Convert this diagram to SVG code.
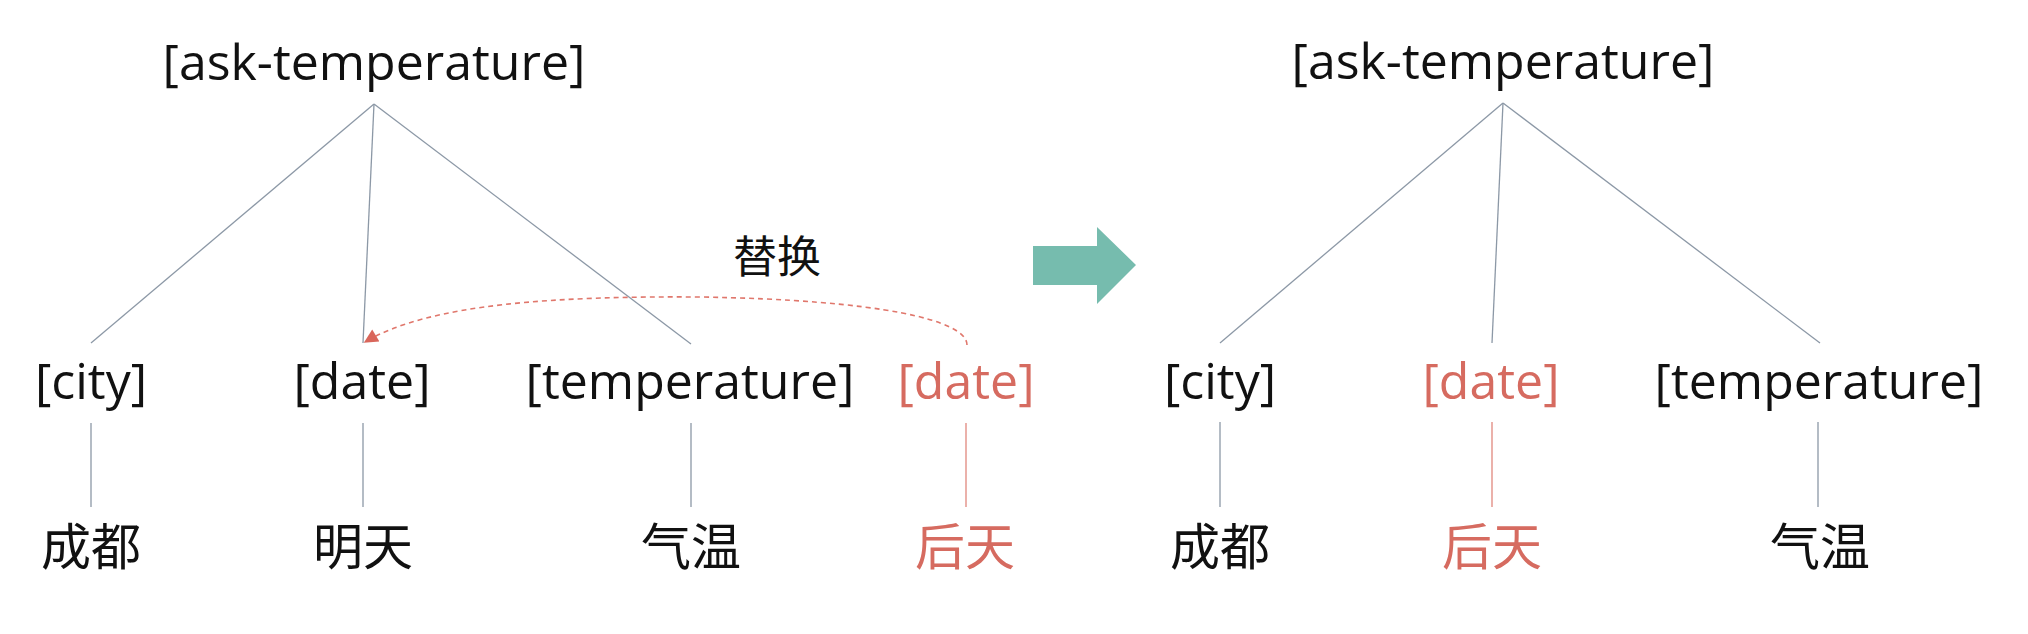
<svg xmlns="http://www.w3.org/2000/svg" width="2028" height="634" viewBox="0 0 2028 634">
<defs>
<style>
.lbl{font-family:"Open Sans","Noto Sans CJK SC",sans-serif;font-size:50px;fill:#111;text-anchor:middle}
.cjk{font-family:"Noto Sans CJK SC",sans-serif;font-size:50px;fill:#111;text-anchor:middle}
.red{fill:#d66b60}
.edge{stroke:#8c98a6;stroke-width:1.3;fill:none}
.redge{stroke:#e0877d;stroke-width:1.3;fill:none}
.dash{stroke:#e0776c;stroke-width:1.6;fill:none;stroke-dasharray:5 4}
</style>
<marker id="ah" viewBox="0 0 10 10" refX="9" refY="5" markerWidth="18" markerHeight="14" markerUnits="userSpaceOnUse" orient="auto">
<path d="M0,0 L10,5 L0,10 z" fill="#d9665b"/>
</marker>
</defs>
<rect width="2028" height="634" fill="#ffffff"/>
<g id="connectors">
<line class="edge" x1="374" y1="104" x2="91" y2="343"/>
<line class="edge" x1="374" y1="104" x2="363" y2="343"/>
<line class="edge" x1="374" y1="104" x2="691" y2="344"/>
<line class="edge" x1="91" y1="423" x2="91" y2="507"/>
<line class="edge" x1="363" y1="423" x2="363" y2="507"/>
<line class="edge" x1="691" y1="423" x2="691" y2="507"/>
<line class="redge" x1="966" y1="423" x2="966" y2="507"/>
<path class="dash" d="M967,345 C967,320 880,300 700,297 C560,296 430,303 365,342" marker-end="url(#ah)"/>
<line class="edge" x1="1503" y1="103" x2="1220" y2="343"/>
<line class="edge" x1="1503" y1="103" x2="1492" y2="343"/>
<line class="edge" x1="1503" y1="103" x2="1820" y2="343"/>
<line class="edge" x1="1220" y1="422" x2="1220" y2="507"/>
<line class="redge" x1="1492" y1="422" x2="1492" y2="507"/>
<line class="edge" x1="1818" y1="422" x2="1818" y2="507"/>
</g>
<g id="left-root"><text class="lbl" x="374" y="80">[ask-temperature]</text></g>
<g id="left-city"><text class="lbl" x="91" y="399">[city]</text></g>
<g id="left-date"><text class="lbl" x="362" y="399">[date]</text></g>
<g id="left-temperature"><text class="lbl" x="690" y="399">[temperature]</text></g>
<g id="left-newdate"><text class="lbl red" x="966" y="399">[date]</text></g>
<g id="left-chengdu"><text class="cjk" x="91" y="565">成都</text></g>
<g id="left-mingtian"><text class="cjk" x="363" y="565">明天</text></g>
<g id="left-qiwen"><text class="cjk" x="691" y="565">气温</text></g>
<g id="left-houtian"><text class="cjk red" x="965" y="565">后天</text></g>
<g id="replace-label"><text class="cjk" x="777" y="273" style="font-size:44px">替换</text></g>
<g id="transform-arrow"><polygon points="1033,246 1097,246 1097,227 1136,265 1097,304 1097,285 1033,285" fill="#76bcae"/></g>
<g id="right-root"><text class="lbl" x="1503" y="79">[ask-temperature]</text></g>
<g id="right-city"><text class="lbl" x="1220" y="399">[city]</text></g>
<g id="right-date"><text class="lbl red" x="1491" y="399">[date]</text></g>
<g id="right-temperature"><text class="lbl" x="1819" y="399">[temperature]</text></g>
<g id="right-chengdu"><text class="cjk" x="1220" y="565">成都</text></g>
<g id="right-houtian"><text class="cjk red" x="1492" y="565">后天</text></g>
<g id="right-qiwen"><text class="cjk" x="1820" y="565">气温</text></g>
</svg>
